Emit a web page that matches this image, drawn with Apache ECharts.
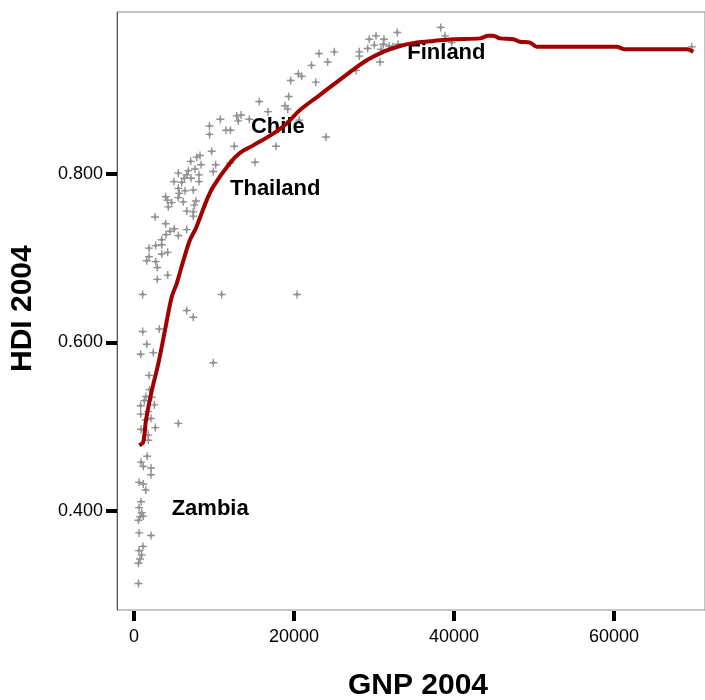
<!DOCTYPE html>
<html>
<head>
<meta charset="utf-8">
<script src="https://cdn.jsdelivr.net/npm/echarts@6/dist/echarts.min.js"></script>
<style>
  html, body { margin: 0; padding: 0; background: #fff; }
  #chart { width: 705px; height: 700px; }
</style>
</head>
<body>
<div id="chart"></div>
<script>
// GNP per capita 2004 vs Human Development Index 2004, one point per country
const gnp = [
  38340, 32910, 30250, 31250, 29410, 38880, 30040, 29210, 28160, 28160,
  31160, 31880, 30880, 39710, 30750, 27750, 32350, 32990, 69710, 23130,
  25040, 24210, 22190, 20540, 20960, 19590, 22710, 19340, 15660, 18880,
  19210, 16750, 12840, 13380, 13040, 14410, 10790, 20660, 9440, 9440,
  11500, 12060, 24000, 17750, 12540, 9710, 15130, 12040, 8250, 7840,
  7090, 8380, 10210, 9910, 7630, 6790, 5540, 6590, 7130, 8130,
  8130, 6290, 5960, 5000, 5540, 6380, 7410, 5660, 5540, 3960,
  4160, 4710, 4290, 6160, 7750, 7540, 6590, 7410, 7410, 2630,
  3960, 5040, 4500, 4000, 5540, 6590, 3460, 2710, 3460, 1880,
  4210, 3460, 1880, 1590, 2710, 2910, 4210, 2910, 1090, 10960,
  20380, 6590, 7410, 1090, 3160, 1590, 840, 2410, 9910, 1880,
  1940, 1500, 1290, 2210, 2540, 840, 840, 1790, 2130, 1460,
  880, 1290, 2660, 5540, 1790, 1790, 1650, 880, 1160, 2130,
  2130, 630, 1160, 1460, 880, 630, 960, 750, 1160, 560,
  630, 2130, 1130, 630, 960, 750, 560, 560
];
const hdi = [
  0.974, 0.968, 0.964, 0.960, 0.960, 0.964, 0.953, 0.949, 0.945, 0.940,
  0.954, 0.952, 0.948, 0.956, 0.933, 0.923, 0.951, 0.954, 0.951, 0.943,
  0.945, 0.933, 0.929, 0.919, 0.916, 0.911, 0.909, 0.892, 0.886, 0.881,
  0.877, 0.874, 0.869, 0.870, 0.863, 0.865, 0.865, 0.864, 0.857, 0.847,
  0.852, 0.852, 0.844, 0.833, 0.833, 0.827, 0.814, 0.813, 0.822, 0.820,
  0.815, 0.811, 0.811, 0.803, 0.806, 0.804, 0.801, 0.799, 0.795, 0.799,
  0.791, 0.795, 0.790, 0.791, 0.783, 0.780, 0.781, 0.777, 0.772, 0.773,
  0.769, 0.766, 0.761, 0.767, 0.768, 0.763, 0.756, 0.755, 0.750, 0.749,
  0.741, 0.735, 0.732, 0.728, 0.727, 0.734, 0.722, 0.715, 0.716, 0.712,
  0.707, 0.705, 0.702, 0.697, 0.696, 0.689, 0.680, 0.675, 0.657, 0.657,
  0.657, 0.638, 0.630, 0.613, 0.616, 0.598, 0.586, 0.588, 0.576, 0.561,
  0.544, 0.536, 0.531, 0.535, 0.526, 0.525, 0.515, 0.518, 0.510, 0.508,
  0.497, 0.496, 0.499, 0.504, 0.490, 0.484, 0.465, 0.458, 0.453, 0.451,
  0.443, 0.434, 0.432, 0.425, 0.411, 0.404, 0.398, 0.393, 0.394, 0.389,
  0.374, 0.371, 0.358, 0.353, 0.348, 0.343, 0.338, 0.314
];

// Smoothed (loess) fit of HDI on GNP
const fitGnp = [
  660, 1160, 1500, 2250, 3040, 3880, 4710, 5340, 6130, 7000,
  7750, 9090, 9910, 12000, 13250, 14910, 17410, 19090, 20750, 23250,
  27000, 29090, 31160, 33250, 35340, 37410, 39910, 43250, 44290, 44910,
  45750, 47410, 48250, 49500, 50340, 60340, 61380, 69090, 69910
];
const fitHdi = [
  0.478, 0.482, 0.508, 0.544, 0.575, 0.615, 0.654, 0.670, 0.696, 0.722,
  0.736, 0.769, 0.785, 0.813, 0.825, 0.834, 0.848, 0.860, 0.876, 0.894,
  0.921, 0.935, 0.945, 0.952, 0.956, 0.958, 0.960, 0.961, 0.964, 0.964,
  0.961, 0.960, 0.957, 0.956, 0.951, 0.951, 0.948, 0.948, 0.945
];

// Annotated countries: name, label anchor (GNP, HDI)
const countryNames = ['Finland', 'Chile', 'Thailand', 'Zambia'];
const countryGnp = [34160, 14620, 12000, 4710];
const countryHdi = [0.944, 0.856, 0.782, 0.402];

const xTicks = [0, 20000, 40000, 60000];
const yTicks = [0.4, 0.6, 0.8];

const points = gnp.map((g, i) => [g, hdi[i]]);
const fit = fitGnp.map((g, i) => [g, fitHdi[i]]);
const countries = countryNames.map((n, i) => ({ name: n, value: [countryGnp[i], countryHdi[i]] }));

const plusMarker = 'path://M-0.6,-3.5H0.6V-1.2H1.2V-0.6H3.5V0.6H1.2V1.2H0.6V3.5H-0.6V1.2H-1.2V0.6H-3.5V-0.6H-1.2V-1.2H-0.6Z';
const textFont = 'Liberation Sans, Arial, sans-serif';

const chart = echarts.init(document.getElementById('chart'), null, { renderer: 'canvas' });
chart.setOption({
  animation: false,
  backgroundColor: '#ffffff',
  grid: {
    left: 117, top: 12, right: 0, bottom: 90,
    show: true, borderColor: '#8c8c8c', borderWidth: 1, backgroundColor: 'transparent'
  },
  xAxis: {
    type: 'value',
    min: -2125, max: 71375,
    offset: 1,
    axisLine: { show: false, onZero: false },
    splitLine: { show: false },
    axisTick: { show: true, customValues: xTicks, length: 10, lineStyle: { color: '#000', width: 4 } },
    axisLabel: {
      customValues: xTicks, margin: 17,
      color: '#000', fontFamily: textFont, fontSize: 18,
      formatter: v => String(v)
    }
  },
  yAxis: {
    type: 'value',
    min: 0.2825, max: 0.9923,
    axisLine: { show: true, onZero: false, lineStyle: { color: '#555', width: 1 } },
    splitLine: { show: false },
    axisTick: { show: true, customValues: yTicks, length: 11, lineStyle: { color: '#000', width: 4 } },
    axisLabel: {
      customValues: yTicks, margin: 14,
      color: '#000', fontFamily: textFont, fontSize: 18,
      formatter: v => v.toFixed(3)
    }
  },
  series: [
    {
      type: 'scatter',
      data: points,
      symbol: plusMarker,
      symbolSize: 8,
      itemStyle: { color: '#939393', opacity: 1 },
      z: 2
    },
    {
      type: 'scatter',
      data: countries,
      symbolSize: 0,
      itemStyle: { opacity: 1 },
      z: 3,
      label: {
        show: true, position: 'right', distance: 0,
        formatter: p => p.name,
        color: '#000', opacity: 1, fontFamily: textFont, fontWeight: 'bold', fontSize: 22
      }
    },
    {
      type: 'line',
      data: fit,
      showSymbol: false,
      smooth: 0.3,
      lineStyle: { color: '#a00000', width: 4 },
      z: 4
    }
  ],
  graphic: [
    {
      type: 'text', x: 418, y: 671,
      style: { text: 'GNP 2004', fill: '#000', align: 'center', font: 'bold 30px ' + textFont }
    },
    {
      type: 'text', rotation: Math.PI / 2, x: 8, y: 372,
      style: { text: 'HDI 2004', fill: '#000', font: 'bold 30px ' + textFont }
    }
  ]
});
</script>
</body>
</html>
